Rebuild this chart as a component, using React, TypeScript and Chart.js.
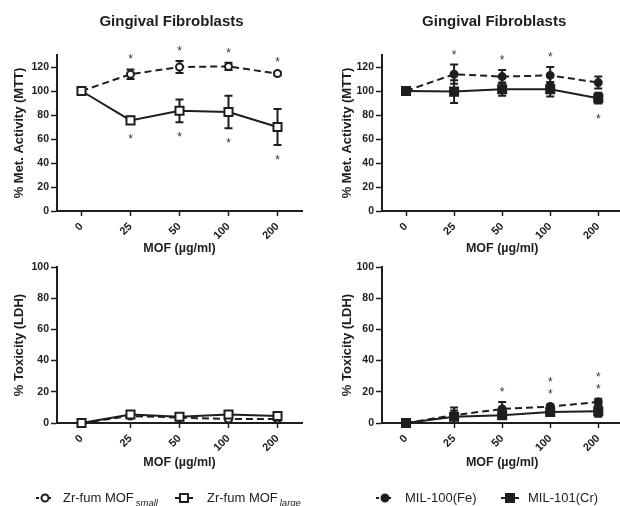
import React, { useEffect, useRef } from 'react';
import { Chart, registerables } from 'chart.js';

Chart.register(...registerables);

const FONT = '"Liberation Sans", Arial, Helvetica, sans-serif';
const INK = '#1e1e1e';

// ---------- data ----------
const doses = ['0', '25', '50', '100', '200'];
const mttTicks = [0, 20, 40, 60, 80, 100, 120];
const ldhTicks = [0, 20, 40, 60, 80, 100];

const panelTitle = 'Gingival Fibroblasts';
const xAxisTitle = 'MOF (µg/ml)';
const mttAxisTitle = '% Met. Activity (MTT)';
const ldhAxisTitle = '% Toxicity (LDH)';

const zrNames = ['Zr-fum MOF', 'Zr-fum MOF'];
const zrSubs = ['small', 'large'];
const milNames = ['MIL-100(Fe)', 'MIL-101(Cr)'];

// MTT, Zr-fum MOFs
const zrSmallMTT = [100, 114, 120, 120.5, 114.5];
const zrSmallMTTErr = [0, 4, 5, 3, 1.5];
const zrSmallMTTStarsUp = [0, 1, 1, 1, 1];
const zrLargeMTT = [100, 75.5, 83.5, 82.5, 70];
const zrLargeMTTErr = [0, 3, 9.5, 13.5, 15];
const zrLargeMTTStarsDown = [0, 1, 1, 1, 1];

// MTT, MIL MOFs
const mil100MTT = [100, 114, 112, 113, 107];
const mil100MTTErr = [0, 8, 5.5, 7, 5];
const mil100MTTStarsUp = [0, 1, 1, 1, 0];
const mil101MTT = [100, 99.5, 101.5, 101.5, 94];
const mil101MTTErr = [0, 9.5, 5.5, 6, 4.5];
const mil101MTTStarsDown = [0, 0, 0, 0, 1];

// LDH, Zr-fum MOFs
const zrSmallLDH = [0, 4.5, 3.5, 2.5, 2.5];
const zrSmallLDHErr = [0.5, 1, 1, 1, 1];
const zrLargeLDH = [0, 5.5, 4, 5.5, 4.5];
const zrLargeLDHErr = [0.5, 1.5, 1, 1, 1.5];

// LDH, MIL MOFs
const mil100LDH = [0, 5, 9, 10.5, 13.5];
const mil100LDHErr = [0.5, 5, 4.5, 1.5, 2];
const mil100LDHStarsUp = [0, 0, 1, 1, 1];
const mil101LDH = [0, 4, 5, 7, 7.5];
const mil101LDHErr = [0.5, 4, 2, 1.5, 3.5];
const mil101LDHStarsUp = [0, 0, 0, 1, 1];

// ---------- types ----------
type Series = {
  name: string;
  sub?: string;
  values: number[];
  errors: number[];
  starsUp?: number[];
  starsDown?: number[];
  dashed: boolean;
  marker: 'circle' | 'rect';
  filled: boolean;
};

type LegendItem = { x: number; textX: number };

type Panel = {
  left: number;
  top: number;
  width: number;
  height: number;
  title?: string;
  yTitle: string;
  yMax: number;
  yTicks: number[];
  series: Series[];
  padding: { top: number; right: number; bottom: number; left: number };
  yWidth: number;
  xHeight: number;
  yTitlePad: number;
  legend?: { y: number; items: LegendItem[] };
};

// ---------- plugins ----------
function drawMarker(ctx: CanvasRenderingContext2D, s: Series, x: number, y: number) {
  ctx.save();
  ctx.setLineDash([]);
  ctx.lineWidth = 2;
  ctx.strokeStyle = INK;
  ctx.fillStyle = s.filled ? INK : '#fff';
  ctx.beginPath();
  if (s.marker === 'circle') {
    ctx.arc(x, y, 3.5, 0, Math.PI * 2);
  } else {
    ctx.rect(x - 4, y - 4, 8, 8);
  }
  ctx.fill();
  ctx.stroke();
  ctx.restore();
}

const errorBarsPlugin = {
  id: 'errorBars',
  beforeDatasetsDraw(chart: any) {
    const { ctx } = chart;
    const ys = chart.scales.y;
    ctx.save();
    ctx.strokeStyle = INK;
    ctx.lineWidth = 2;
    ctx.setLineDash([]);
    chart.data.datasets.forEach((ds: any, i: number) => {
      const meta = chart.getDatasetMeta(i);
      meta.data.forEach((pt: any, j: number) => {
        const e = ds.errors ? ds.errors[j] : 0;
        if (!e) return;
        const v = ds.data[j];
        const t = ys.getPixelForValue(v + e);
        const b = ys.getPixelForValue(v - e);
        ctx.beginPath();
        ctx.moveTo(pt.x, t);
        ctx.lineTo(pt.x, b);
        ctx.moveTo(pt.x - 4, t);
        ctx.lineTo(pt.x + 4, t);
        ctx.moveTo(pt.x - 4, b);
        ctx.lineTo(pt.x + 4, b);
        ctx.stroke();
      });
    });
    ctx.restore();
  },
  afterDatasetsDraw(chart: any) {
    const { ctx } = chart;
    const ys = chart.scales.y;
    const n = chart.data.labels.length;
    ctx.save();
    ctx.font = `12px ${FONT}`;
    ctx.fillStyle = '#333';
    ctx.textAlign = 'center';
    ctx.textBaseline = 'alphabetic';
    for (let j = 0; j < n; j++) {
      let up = 0;
      let down = 0;
      let top = Infinity;
      let bot = -Infinity;
      chart.data.datasets.forEach((ds: any) => {
        const v = ds.data[j];
        const e = (ds.errors && ds.errors[j]) || 0;
        top = Math.min(top, ys.getPixelForValue(v + e));
        bot = Math.max(bot, ys.getPixelForValue(v - e));
        up += (ds.starsUp && ds.starsUp[j]) || 0;
        down += (ds.starsDown && ds.starsDown[j]) || 0;
      });
      const x = chart.getDatasetMeta(0).data[j].x;
      for (let k = 0; k < up; k++) {
        const cy = top - 13 - 12 * k;
        ctx.fillText('*', x, cy + 7);
      }
      for (let k = 0; k < down; k++) {
        const cy = bot + 12 + 12 * k;
        ctx.fillText('*', x, cy + 7);
      }
    }
    ctx.restore();
  },
};

function makeTitlePlugin(text?: string) {
  return {
    id: 'panelTitle',
    afterDraw(chart: any) {
      if (!text) return;
      const { ctx, chartArea } = chart;
      ctx.save();
      ctx.font = `bold 15px ${FONT}`;
      ctx.fillStyle = INK;
      ctx.textAlign = 'center';
      ctx.textBaseline = 'middle';
      ctx.fillText(text, (chartArea.left + chartArea.right) / 2 - 8, 22);
      ctx.restore();
    },
  };
}

function makeLegendPlugin(panel: Panel) {
  return {
    id: 'seriesLegend',
    afterDraw(chart: any) {
      if (!panel.legend) return;
      const { ctx } = chart;
      const y = panel.legend.y;
      panel.legend.items.forEach((it, i) => {
        const s = panel.series[i];
        ctx.save();
        ctx.strokeStyle = INK;
        ctx.lineWidth = 2;
        ctx.setLineDash(s.dashed ? [3, 3] : []);
        ctx.beginPath();
        ctx.moveTo(it.x - 9, y);
        ctx.lineTo(it.x + 9, y);
        ctx.stroke();
        ctx.restore();
        drawMarker(ctx, s, it.x, y);
        ctx.save();
        ctx.font = `13px ${FONT}`;
        ctx.fillStyle = '#222';
        ctx.textAlign = 'left';
        ctx.textBaseline = 'middle';
        ctx.fillText(s.name, it.textX, y);
        if (s.sub) {
          const w = ctx.measureText(s.name).width;
          ctx.font = `italic 9.5px ${FONT}`;
          ctx.fillText(s.sub, it.textX + w + 2, y + 5);
        }
        ctx.restore();
      });
    },
  };
}

function buildConfig(p: Panel): any {
  return {
    type: 'line',
    data: {
      labels: doses,
      datasets: p.series.map((s) => ({
        label: s.sub ? `${s.name} ${s.sub}` : s.name,
        data: s.values,
        errors: s.errors,
        starsUp: s.starsUp,
        starsDown: s.starsDown,
        order: s.marker === 'rect' ? 0 : 1,
        borderColor: INK,
        borderWidth: 2,
        borderDash: s.dashed ? [7, 4] : [],
        pointStyle: s.marker,
        pointRadius: s.marker === 'rect' ? 5.7 : 3.5,
        pointBorderWidth: 2,
        pointBorderColor: INK,
        pointBackgroundColor: s.filled ? INK : '#fff',
        tension: 0,
        fill: false,
        clip: false,
      })),
    },
    options: {
      animation: false,
      responsive: false,
      layout: { padding: p.padding },
      plugins: {
        legend: { display: false },
        tooltip: { enabled: false },
        title: { display: false },
      },
      scales: {
        x: {
          type: 'category',
          offset: true,
          grid: {
            display: true,
            drawOnChartArea: false,
            drawTicks: true,
            tickLength: 5,
            offset: false,
            tickColor: INK,
            tickWidth: 1.5,
          },
          border: { display: true, color: INK, width: 2 },
          ticks: {
            minRotation: 45,
            maxRotation: 45,
            autoSkip: false,
            padding: 4,
            color: INK,
            font: { family: FONT, size: 11, weight: 'bold' },
          },
          title: {
            display: true,
            text: xAxisTitle,
            color: INK,
            font: { family: FONT, size: 12.5, weight: 'bold' },
            padding: 0,
          },
          afterFit: (s: any) => {
            s.height = p.xHeight;
          },
        },
        y: {
          type: 'linear',
          min: 0,
          max: p.yMax,
          grid: {
            display: true,
            drawOnChartArea: false,
            drawTicks: true,
            tickLength: 6,
            tickColor: INK,
            tickWidth: 1.5,
          },
          border: { display: true, color: INK, width: 2 },
          ticks: {
            stepSize: 10,
            padding: 2,
            color: INK,
            font: { family: FONT, size: 10.5, weight: 'bold' },
          },
          afterBuildTicks: (s: any) => {
            s.ticks = p.yTicks.map((v) => ({ value: v }));
          },
          title: {
            display: true,
            text: p.yTitle,
            color: INK,
            font: { family: FONT, size: 13, weight: 'bold' },
            padding: { top: p.yTitlePad, bottom: 0 },
          },
          afterFit: (s: any) => {
            s.width = p.yWidth;
          },
        },
      },
    },
    plugins: [errorBarsPlugin, makeTitlePlugin(p.title), makeLegendPlugin(p)],
  };
}

// ---------- panels ----------
const panels: Panel[] = [
  {
    left: 0, top: 0, width: 310, height: 262,
    title: panelTitle,
    yTitle: mttAxisTitle, yMax: 130, yTicks: mttTicks,
    series: [
      { name: zrNames[0], sub: zrSubs[0], values: zrSmallMTT, errors: zrSmallMTTErr, starsUp: zrSmallMTTStarsUp, dashed: true, marker: 'circle', filled: false },
      { name: zrNames[1], sub: zrSubs[1], values: zrLargeMTT, errors: zrLargeMTTErr, starsDown: zrLargeMTTStarsDown, dashed: false, marker: 'rect', filled: false },
    ],
    padding: { top: 55, right: 8, bottom: 6, left: 0 },
    yWidth: 57, xHeight: 45, yTitlePad: 12,
  },
  {
    left: 310, top: 0, width: 320, height: 262,
    title: panelTitle,
    yTitle: mttAxisTitle, yMax: 130, yTicks: mttTicks,
    series: [
      { name: milNames[0], values: mil100MTT, errors: mil100MTTErr, starsUp: mil100MTTStarsUp, dashed: true, marker: 'circle', filled: true },
      { name: milNames[1], values: mil101MTT, errors: mil101MTTErr, starsDown: mil101MTTStarsDown, dashed: false, marker: 'rect', filled: true },
    ],
    padding: { top: 55, right: 5.5, bottom: 6, left: 0 },
    yWidth: 72, xHeight: 45, yTitlePad: 30,
  },
  {
    left: 0, top: 255, width: 310, height: 251,
    yTitle: ldhAxisTitle, yMax: 100, yTicks: ldhTicks,
    series: [
      { name: zrNames[0], sub: zrSubs[0], values: zrSmallLDH, errors: zrSmallLDHErr, dashed: true, marker: 'circle', filled: false },
      { name: zrNames[1], sub: zrSubs[1], values: zrLargeLDH, errors: zrLargeLDHErr, dashed: false, marker: 'rect', filled: false },
    ],
    padding: { top: 12, right: 8, bottom: 36, left: 0 },
    yWidth: 57, xHeight: 47, yTitlePad: 12,
    legend: { y: 243, items: [{ x: 45, textX: 63 }, { x: 184, textX: 207 }] },
  },
  {
    left: 310, top: 255, width: 320, height: 251,
    yTitle: ldhAxisTitle, yMax: 100, yTicks: ldhTicks,
    series: [
      { name: milNames[0], values: mil100LDH, errors: mil100LDHErr, starsUp: mil100LDHStarsUp, dashed: true, marker: 'circle', filled: true },
      { name: milNames[1], values: mil101LDH, errors: mil101LDHErr, starsUp: mil101LDHStarsUp, dashed: false, marker: 'rect', filled: true },
    ],
    padding: { top: 12, right: 5.5, bottom: 36, left: 0 },
    yWidth: 72, xHeight: 47, yTitlePad: 30,
    legend: { y: 243, items: [{ x: 75, textX: 95 }, { x: 200, textX: 218 }] },
  },
];

function ChartPanel({ panel }: { panel: Panel }) {
  const ref = useRef<HTMLCanvasElement>(null);
  useEffect(() => {
    if (!ref.current) return;
    const chart = new Chart(ref.current, buildConfig(panel));
    return () => chart.destroy();
  }, [panel]);
  return (
    <div style={{ position: 'absolute', left: panel.left, top: panel.top, width: panel.width, height: panel.height }}>
      <canvas ref={ref} width={panel.width} height={panel.height} style={{ width: panel.width, height: panel.height, display: 'block' }} />
    </div>
  );
}

export default function App() {
  return (
    <div style={{ position: 'absolute', left: 0, top: 0, width: 620, height: 506, overflow: 'hidden', background: '#fff' }}>
      {panels.map((p, i) => (
        <ChartPanel key={i} panel={p} />
      ))}
    </div>
  );
}
